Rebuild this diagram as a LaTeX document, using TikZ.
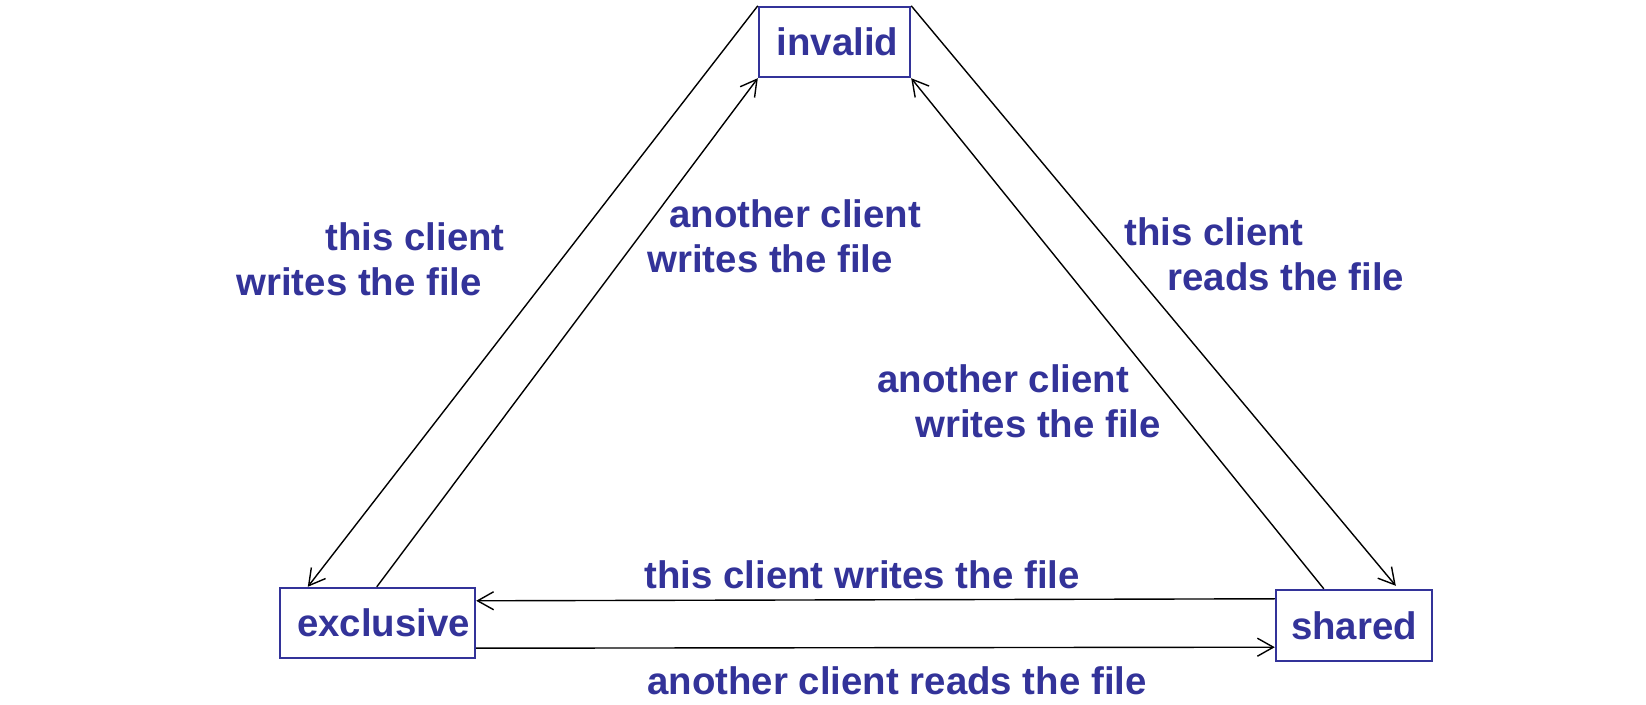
\documentclass[tikz,border=0pt]{standalone}
\usepackage{fontspec}
\setmainfont{Liberation Sans}
\usetikzlibrary{arrows.meta}
\definecolor{state-blue}{HTML}{333399}

\begin{document}
\begin{tikzpicture}[
    x=0.5pt, y=-0.5pt,
    every node/.style={
        font=\fontsize{19.2}{22.5}\selectfont\bfseries,
        text=state-blue,
    },
    state/.style={
        draw=state-blue, line width=1.2pt, inner sep=0pt,
        minimum height=35pt,
    },
    trans/.style={ -{Straight Barb[length=8pt,width=9pt]}, line width=.7pt, },
    lbl/.style={ align=left, anchor=base west, inner sep=0pt, },
]
\useasboundingbox (0,0) rectangle (1646,705);

\node[state, minimum width=75.5pt] (invalid) at (834.5,42) {\hspace*{3pt}invalid};
\node[state, minimum width=97.5pt] (exclusive) at (377.5,623) {\hspace*{6pt}exclusive};
\node[state, minimum width=78pt, minimum height=35.5pt] (shared) at (1354,625.5) {shared};

\draw[trans] (invalid.north west) -- ([xshift=14.5pt]exclusive.north west);
\draw[trans] ([xshift=49pt]exclusive.north west) -- (invalid.south west);
\draw[trans] (invalid.north east) -- ([xshift=60.5pt,yshift=1.5pt]shared.north west);
\draw[trans] ([xshift=24.5pt]shared.north west) -- (invalid.south east);
\draw[trans] ([yshift=-5pt]shared.north west) -- ([yshift=-7pt]exclusive.north east);
\draw[trans] ([yshift=5.5pt]exclusive.south east) -- ([yshift=7.5pt]shared.south west);

% base is the last line of each label
\node[lbl] (tw-left) at (236,296) {\hspace*{44.5pt}this client\\writes the file};
\node[lbl] (aw-left) at (647,273) {\hspace*{11pt}another client\\writes the file};
\node[lbl] (tr-right) at (1124,291) {this client\\\hspace*{21.5pt}reads the file};
\node[lbl] (aw-right) at (877,438) {another client\\\hspace*{19pt}writes the file};
\node[lbl] (tw-bottom) at (644,589) {this client writes the file};
\node[lbl] (ar-bottom) at (647,695) {another client reads the file};
\end{tikzpicture}
\end{document}
